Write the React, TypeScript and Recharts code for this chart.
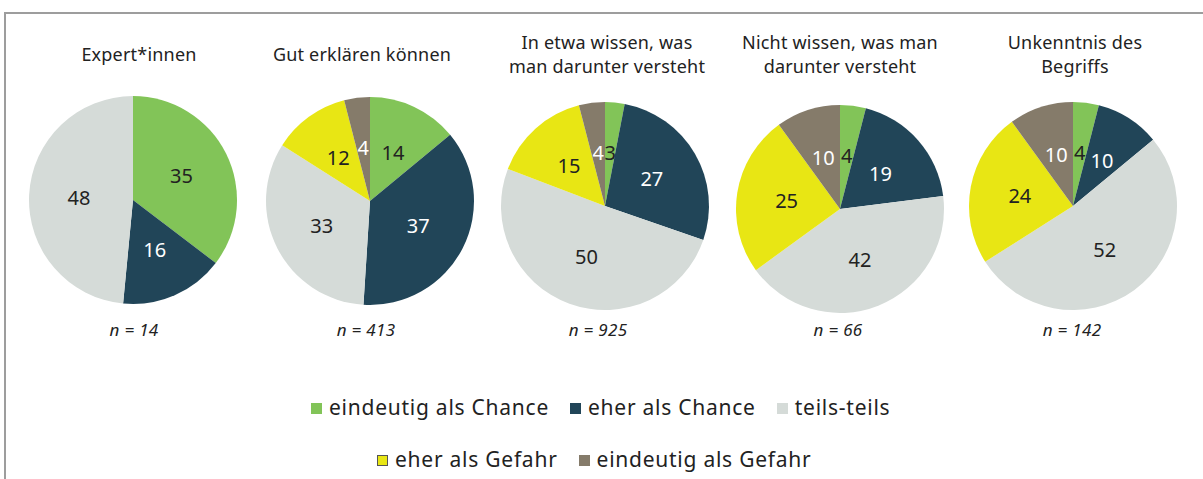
import { PieChart, Pie, Cell } from "recharts";

const categories = [
  "eindeutig als Chance",
  "eher als Chance",
  "teils-teils",
  "eher als Gefahr",
  "eindeutig als Gefahr",
];
const colors = ["#82c458", "#214558", "#d5dbd8", "#e8e614", "#857b6a"];
const labelColors = ["#222", "#fff", "#222", "#222", "#fff"];

const groups = [
  ["Expert*innen"],
  ["Gut erklären können"],
  ["In etwa wissen, was", "man darunter versteht"],
  ["Nicht wissen, was man", "darunter versteht"],
  ["Unkenntnis des", "Begriffs"],
];
const sampleSizes = [14, 413, 925, 66, 142];

const expertValues = [35, 16, 48, 0, 0];
const explainValues = [14, 37, 33, 12, 4];
const roughlyValues = [3, 27, 50, 15, 4];
const notKnowValues = [4, 19, 42, 25, 10];
const unknownValues = [4, 10, 52, 24, 10];
const seriesValues = [expertValues, explainValues, roughlyValues, notKnowValues, unknownValues];

const pies = [
  { cx: 133, cy: 200, tx: 139, nx: 134 },
  { cx: 370, cy: 201, tx: 362, nx: 366 },
  { cx: 605, cy: 206, tx: 607, nx: 598 },
  { cx: 840, cy: 209, tx: 840, nx: 838 },
  { cx: 1073, cy: 206, tx: 1075, nx: 1072 },
];

const FONT = "'Noto Sans', Lato, sans-serif";
const RAD = Math.PI / 180;

const renderLabel = (props: any) => {
  const { cx, cy, midAngle, outerRadius, value, index } = props;
  if (!value) return null;
  const r = outerRadius * 0.52;
  const x = cx + r * Math.cos(-midAngle * RAD);
  const y = cy + r * Math.sin(-midAngle * RAD);
  return (
    <text
      x={x}
      y={y}
      fill={labelColors[index]}
      textAnchor="middle"
      dominantBaseline="central"
      fontSize={20}
      fontFamily={FONT}
    >
      {value}
    </text>
  );
};

const legendRows = [
  { left: 311, items: [0, 1, 2] },
  { left: 377, items: [3, 4] },
];

export default function App() {
  return (
    <div
      style={{
        position: "absolute",
        left: 0,
        top: 0,
        width: 1203,
        height: 479,
        overflow: "hidden",
        background: "#fff",
        fontFamily: FONT,
        color: "#222",
      }}
    >
      <div
        style={{
          position: "absolute",
          left: 4,
          top: 12,
          width: 1300,
          height: 600,
          borderLeft: "2px solid #9d9d9d",
          borderTop: "2px solid #9d9d9d",
        }}
      />
      {pies.map((p, i) => (
        <div
          key={"t" + i}
          style={{
            position: "absolute",
            left: p.tx - 130,
            width: 260,
            top: groups[i].length === 1 ? 42 : 30,
            textAlign: "center",
            fontSize: 18,
            letterSpacing: 0.2,
            lineHeight: "24px",
          }}
        >
          {groups[i].map((line) => (
            <div key={line}>{line}</div>
          ))}
        </div>
      ))}
      {pies.map((p, i) => (
        <div
          key={"n" + i}
          style={{
            position: "absolute",
            left: p.nx - 60,
            width: 120,
            top: 318,
            textAlign: "center",
            fontSize: 17,
            letterSpacing: 0.3,
            fontStyle: "italic",
          }}
        >
          n = {sampleSizes[i]}
        </div>
      ))}
      <div style={{ position: "absolute", left: 0, top: 0 }}>
        <PieChart width={1203} height={479} margin={{ top: 0, right: 0, bottom: 0, left: 0 }}>
          {pies.map((p, i) => (
            <Pie
              key={"p" + i}
              data={categories.map((c, k) => ({ name: c, value: seriesValues[i][k] }))}
              dataKey="value"
              cx={p.cx}
              cy={p.cy}
              outerRadius={104}
              startAngle={90}
              endAngle={-270}
              stroke="none"
              label={renderLabel}
              labelLine={false}
              isAnimationActive={false}
            >
              {categories.map((c, k) => (
                <Cell key={c} fill={colors[k]} />
              ))}
            </Pie>
          ))}
        </PieChart>
      </div>
      {legendRows.map((row, r) => (
        <div
          key={"l" + r}
          style={{
            position: "absolute",
            left: row.left,
            top: r === 0 ? 393 : 445,
            display: "flex",
            alignItems: "center",
            gap: 21,
            fontSize: 21,
            letterSpacing: 0.75,
            lineHeight: "28px",
            whiteSpace: "nowrap",
          }}
        >
          {row.items.map((k) => (
            <div key={k} style={{ display: "flex", alignItems: "center", gap: 7 }}>
              <span
                style={{
                  display: "inline-block",
                  width: k === 3 ? 9 : 11,
                  height: k === 3 ? 9 : 11,
                  background: colors[k],
                  border: k === 3 ? "1px solid #555" : "none",
                  marginTop: 3,
                }}
              />
              <span>{categories[k]}</span>
            </div>
          ))}
        </div>
      ))}
    </div>
  );
}
